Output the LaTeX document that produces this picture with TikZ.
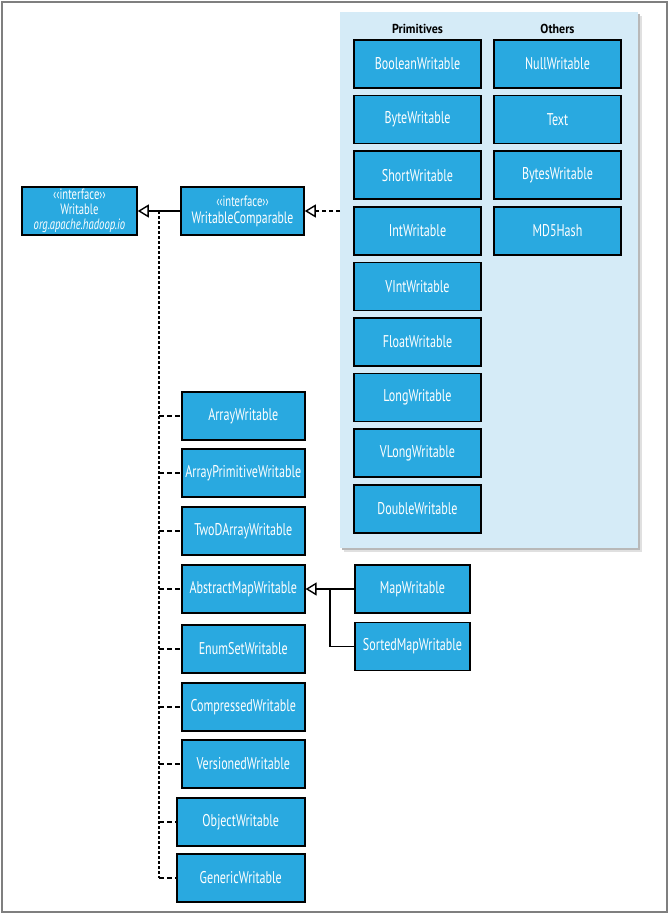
\documentclass[tikz,border=0pt]{standalone}
\usepackage{fontspec}
\setmainfont{PT Sans}[FakeStretch=0.71]
\newfontfamily\headfont{PT Sans}[FakeStretch=0.92]
\usetikzlibrary{arrows.meta}
\definecolor{boxblue}{HTML}{29A9E0}
\definecolor{panelblue}{HTML}{D5EBF7}
\definecolor{framegray}{HTML}{7F7F7F}
\tikzset{
  cls/.style={draw=black, line width=1.6pt, fill=boxblue, text=white,
    minimum height=48pt, inner sep=1pt, align=center,
    font=\fontsize{17}{18}\selectfont},
  iface/.style={cls, font=\fontsize{15}{15.2}\selectfont},
  head/.style={font=\headfont\bfseries\fontsize{13}{14}\selectfont, text=black},
  inherit/.style={line width=1.4pt, -{Triangle[open, length=11pt, width=13pt, line width=1.4pt, fill=white]}},
  realize/.style={inherit, dash pattern=on 4pt off 3pt},
  dotline/.style={line width=1.6pt, dash pattern=on 2.5pt off 2.5pt},
  stub/.style={line width=1.4pt, dash pattern=on 4.5pt off 3.5pt},
}
\begin{document}
\begin{tikzpicture}[x=1pt, y=-1pt]
  \useasboundingbox (0,0) rectangle (670,915);
  % outer frame
  \draw[framegray, line width=1.5pt] (2,2) rectangle (667,912);

  % panel of concrete types, with its shadow
  \fill[black!12] (344,16) rectangle (642,552);
  \fill[black!28] (342,14) rectangle (640,550);
  \fill[panelblue] (340,12) rectangle (638,548);
  \node[head] (hprim) at (417.5,29) {Primitives};
  \node[head] (hoth) at (557.5,29) {Others};

  % primitive wrappers
  \foreach \n/\t [count=\i from 0] in {bw/BooleanWritable, byw/ByteWritable, sw/ShortWritable,
      iw/IntWritable, viw/VIntWritable, fw/FloatWritable, lw/LongWritable,
      vlw/VLongWritable, dw/DoubleWritable}
    \node[cls, minimum width=127pt] (\n) at (417.5, 64+55.6*\i) {\t};
  % other types
  \foreach \n/\t [count=\i from 0] in {nw/NullWritable, txt/Text, bsw/BytesWritable, md/MD5Hash}
    \node[cls, minimum width=127pt] (\n) at (557.5, 64+55.6*\i) {\t};

  % interfaces
  \node[iface, minimum width=115pt] (wr) at (79.5,211)
    {‹‹interface››\\Writable\\{\itshape org.apache.hadoop.io}};
  \node[iface, minimum width=123pt, font=\fontsize{16.5}{17}\selectfont] (wc) at (242.5,211)
    {{\fontsize{15}{15}\selectfont ‹‹interface››}\\WritableComparable};

  \coordinate (pl) at (340,211);
  \draw[realize] (pl) -- (wc.east);
  \draw[inherit] (wc.west) -- (wr.east);

  % direct Writable implementations
  \foreach \n/\t/\y/\w in {aw/ArrayWritable/416/123, apw/ArrayPrimitiveWritable/473/123,
      tdw/TwoDArrayWritable/531/123, amw/AbstractMapWritable/589/123,
      esw/EnumSetWritable/649/123, cw/CompressedWritable/707/123,
      vw/VersionedWritable/764/123, ow/ObjectWritable/822/128, gw/GenericWritable/878/128}
    \node[cls, minimum width=\w pt, anchor=west] (\n) at ({304-\w}, \y) {\t};

  \coordinate (jt) at (159,211);
  \coordinate (jb) at (159,878);
  \draw[dotline] (jt) -- (jb);
  \foreach \n in {aw,apw,tdw,amw,esw,cw,vw,ow,gw}
    \draw[stub] (jt |- \n.west) -- (\n.west);

  % map writables
  \node[cls, minimum width=115pt] (mw) at (412.5,589) {MapWritable};
  \node[cls, minimum width=115pt] (smw) at (412.5,646.5) {SortedMapWritable};
  \coordinate (br) at (330,589);
  \draw[inherit] (mw.west) -- (amw.east);
  \draw[line width=1.4pt] (smw.west) -| (br);
\end{tikzpicture}
\end{document}
